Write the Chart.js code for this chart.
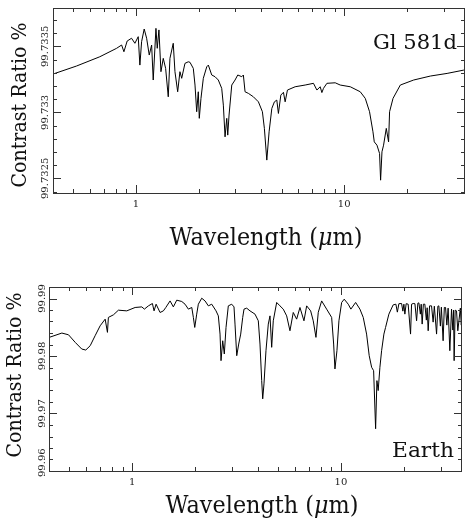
<!DOCTYPE html>
<html>
<head>
<meta charset="utf-8">
<script src="https://cdn.jsdelivr.net/npm/chart.js@4.4.0/dist/chart.umd.min.js"></script>
<style>
  html, body { margin: 0; padding: 0; background: #fff; overflow: hidden; }
  canvas { display: block; }
</style>
</head>
<body>
<canvas id="topChart" width="466" height="260"></canvas>
<canvas id="bottomChart" width="466" height="260"></canvas>
<script>
// Gl 581d spectrum (wavelength in micron, contrast ratio in %)
const gl581dWavelength = [
  0.400, 0.519, 0.671, 0.808, 0.854, 0.876, 0.908, 0.953, 0.989, 1.026,
  1.045, 1.065, 1.096, 1.126, 1.159, 1.190, 1.211, 1.248, 1.266, 1.290,
  1.319, 1.353, 1.389, 1.430, 1.457, 1.511, 1.540, 1.587, 1.627, 1.659,
  1.720, 1.784, 1.818, 1.886, 1.922, 1.958, 1.993, 2.015, 2.053, 2.107,
  2.188, 2.227, 2.312, 2.398, 2.487, 2.582, 2.629, 2.679, 2.730, 2.760,
  2.800, 2.885, 2.992, 3.083, 3.222, 3.280, 3.342, 3.467, 3.664, 3.873,
  4.048, 4.138, 4.250, 4.359, 4.492, 4.623, 4.747, 4.832, 4.963, 5.108,
  5.205, 5.339, 5.813, 6.494, 7.119, 7.392, 7.666, 7.812, 7.952, 8.258,
  9.051, 9.568, 10.69, 11.94, 12.62, 13.23, 13.74, 13.94, 14.36, 14.78,
  14.95, 15.18, 15.45, 15.92, 16.33, 16.51, 17.15, 18.59, 21.54, 25.91,
  31.18, 37.47, 38.0
];
const gl581dContrast = [
  99.733290, 99.733351, 99.733421, 99.733485, 99.733510, 99.733459, 99.733540, 99.733561, 99.733523, 99.733573,
  99.733358, 99.733535, 99.733631, 99.733561, 99.733434, 99.733510, 99.733245, 99.733636, 99.733485, 99.733624,
  99.733308, 99.733409, 99.733333, 99.733118, 99.733409, 99.733523, 99.733308, 99.733156, 99.733308, 99.733258,
  99.733371, 99.733383, 99.733379, 99.733333, 99.733207, 99.733005, 99.733156, 99.732955, 99.733106, 99.733258,
  99.733345, 99.733358, 99.733283, 99.733270, 99.733245, 99.733182, 99.733055, 99.732815, 99.732955, 99.732828,
  99.732980, 99.733207, 99.733245, 99.733283, 99.733270, 99.733283, 99.733156, 99.733144, 99.733118, 99.733080,
  99.733005, 99.732879, 99.732639, 99.732853, 99.733030, 99.733080, 99.733093, 99.732992, 99.733131, 99.733152,
  99.733080, 99.733169, 99.733194, 99.733207, 99.733220, 99.733169, 99.733194, 99.733150, 99.733182, 99.733220,
  99.733224, 99.733207, 99.733194, 99.733156, 99.733106, 99.733005, 99.732853, 99.732777, 99.732752, 99.732689,
  99.732487, 99.732702, 99.732752, 99.732879, 99.732777, 99.733005, 99.733106, 99.733207, 99.733245, 99.733275,
  99.733295, 99.733320, 99.733322
];

// Earth spectrum
const earthWavelength = [
  0.401, 0.461, 0.496, 0.534, 0.574, 0.600, 0.630, 0.665, 0.703, 0.743,
  0.762, 0.770, 0.814, 0.860, 0.943, 1.034, 1.113, 1.145, 1.197, 1.251,
  1.274, 1.303, 1.361, 1.412, 1.450, 1.520, 1.576, 1.636, 1.729, 1.793,
  1.860, 1.931, 1.965, 1.995, 2.039, 2.076, 2.155, 2.235, 2.318, 2.406,
  2.523, 2.588, 2.637, 2.666, 2.716, 2.764, 2.817, 2.889, 2.999, 3.076,
  3.110, 3.170, 3.240, 3.312, 3.386, 3.435, 3.538, 3.669, 3.877, 4.021,
  4.097, 4.174, 4.221, 4.281, 4.376, 4.489, 4.574, 4.660, 4.743, 4.924,
  5.106, 5.295, 5.497, 5.701, 5.912, 6.137, 6.365, 6.653, 6.854, 7.161,
  7.370, 7.593, 7.790, 8.085, 8.542, 9.028, 9.229, 9.362, 9.570, 9.782,
  10.08, 10.37, 10.84, 11.16, 11.76, 12.33, 12.79, 13.27, 13.66, 14.03,
  14.34, 14.66, 14.87, 15.08, 15.37, 15.66, 16.06, 16.36, 16.97, 17.79,
  18.33, 18.63, 18.95, 19.52, 19.80, 20.02, 20.24, 20.53, 20.99, 21.55,
  21.79, 22.18, 22.61, 23.03, 23.36, 23.62, 24.01, 24.23, 24.49, 24.82,
  25.23, 25.65, 25.88, 26.17, 26.58, 27.16, 27.64, 28.01, 28.71, 29.12,
  29.44, 29.94, 30.27, 30.86, 31.27, 31.70, 32.15, 32.61, 33.23, 33.86,
  34.36, 34.62, 34.84, 35.24, 35.77, 36.29, 37.31, 37.71, 38.0
];
const earthContrast = [
  99.98324, 99.98399, 99.98369, 99.98237, 99.98121, 99.98104, 99.98179, 99.98352, 99.98525, 99.98641,
  99.98411, 99.98671, 99.98716, 99.98797, 99.98785, 99.98844, 99.98854, 99.98815, 99.98872, 99.98913,
  99.98785, 99.98901, 99.98757, 99.98785, 99.98844, 99.98958, 99.98854, 99.98971, 99.98948, 99.98901,
  99.98815, 99.98844, 99.98671, 99.98497, 99.98728, 99.98901, 99.99005, 99.98958, 99.98872, 99.98901,
  99.98785, 99.98698, 99.98381, 99.97919, 99.98265, 99.98035, 99.98497, 99.98872, 99.98901, 99.98854,
  99.98555, 99.98005, 99.98208, 99.98381, 99.98671, 99.98815, 99.98832, 99.98785, 99.98728, 99.98612,
  99.98208, 99.97572, 99.97255, 99.97515, 99.98092, 99.98555, 99.98698, 99.98151, 99.98612, 99.98931,
  99.98872, 99.98815, 99.98698, 99.98439, 99.98757, 99.98641, 99.98844, 99.98612, 99.98872, 99.98785,
  99.98612, 99.98324, 99.98760, 99.98958, 99.98815, 99.98671, 99.98208, 99.97775, 99.98092, 99.98612,
  99.98931, 99.98988, 99.98901, 99.98815, 99.98931, 99.98815, 99.98671, 99.98381, 99.98005, 99.97804,
  99.97745, 99.96735, 99.97572, 99.97399, 99.97804, 99.98092, 99.98381, 99.98497, 99.98728, 99.98889,
  99.98901, 99.98763, 99.98910, 99.98913, 99.98780, 99.98901, 99.98728, 99.98910, 99.98901, 99.98381,
  99.98901, 99.98913, 99.98910, 99.98612, 99.98919, 99.98924, 99.98728, 99.98901, 99.98555, 99.98901,
  99.98901, 99.98624, 99.98839, 99.98439, 99.98872, 99.98872, 99.98589, 99.98866, 99.98381, 99.98866,
  99.98872, 99.98520, 99.98849, 99.98265, 99.98844, 99.98844, 99.98537, 99.98832, 99.98092, 99.98815,
  99.98451, 99.98797, 99.97919, 99.98797, 99.98785, 99.98439, 99.98832, 99.98537, 99.98832
];

// axis ticks
const xMajorTicks = [1, 10];
const xMinorTicks = [0.4, 0.5, 0.6, 0.7, 0.8, 0.9, 2, 3, 4, 5, 6, 7, 8, 9, 20, 30];
const gl581dMajorTicks = [99.7325, 99.733, 99.7335];
const gl581dMinorTicks = [99.7324, 99.7326, 99.7327, 99.7328, 99.7329, 99.7331, 99.7332, 99.7333, 99.7334, 99.7336, 99.7337];
const earthMajorTicks = [99.96, 99.97, 99.98, 99.99];
const earthMinorTicks = [99.962, 99.964, 99.966, 99.968, 99.972, 99.974, 99.976, 99.978, 99.982, 99.984, 99.986, 99.988];

const SERIF = '"DejaVu Serif", "Liberation Serif", serif';

// texte centré, mis à l'échelle horizontalement pour tenir dans la largeur voulue
function drawFitted(ctx, parts, cx, cy, size, target, angle) {
  ctx.save();
  let total = 0;
  parts.forEach(p => {
    ctx.font = (p.italic ? 'italic ' : '') + size + 'px ' + SERIF;
    p.w = ctx.measureText(p.t).width;
    total += p.w;
  });
  ctx.translate(cx, cy);
  ctx.rotate(angle || 0);
  ctx.scale(target ? target / total : 1, 1);
  ctx.textAlign = 'left';
  ctx.textBaseline = 'alphabetic';
  let x = -total / 2;
  parts.forEach(p => {
    ctx.font = (p.italic ? 'italic ' : '') + size + 'px ' + SERIF;
    ctx.fillText(p.t, x, 0);
    x += p.w;
  });
  ctx.restore();
}

const framePlugin = {
  id: 'frame',
  afterDraw(chart, args, opts) {
    const ctx = chart.ctx;
    const a = chart.chartArea;
    const xs = chart.scales.x, ys = chart.scales.y;
    ctx.save();
    ctx.strokeStyle = '#333';
    ctx.lineWidth = 1;
    ctx.strokeRect(Math.round(a.left) + 0.5, Math.round(a.top) + 0.5, Math.round(a.right - a.left) - 1, Math.round(a.bottom - a.top));

    const tick = (v, len, axis) => {
      ctx.beginPath();
      if (axis === 'x') {
        const p = Math.round(xs.getPixelForValue(v)) + 0.5;
        ctx.moveTo(p, a.bottom); ctx.lineTo(p, a.bottom - len);
        ctx.moveTo(p, a.top); ctx.lineTo(p, a.top + len);
      } else {
        const p = Math.round(ys.getPixelForValue(v)) + 0.5;
        ctx.moveTo(a.left, p); ctx.lineTo(a.left + len, p);
        ctx.moveTo(a.right, p); ctx.lineTo(a.right - len, p);
      }
      ctx.stroke();
    };
    xMajorTicks.forEach(v => tick(v, 8, 'x'));
    xMinorTicks.forEach(v => tick(v, 4, 'x'));
    opts.yMajor.forEach(v => tick(v, 8, 'y'));
    opts.yMinor.forEach(v => tick(v, 4, 'y'));

    // étiquettes des graduations
    ctx.fillStyle = '#222';
    ctx.font = '10px ' + SERIF;
    ctx.textAlign = 'center';
    ctx.textBaseline = 'alphabetic';
    xMajorTicks.forEach(v => {
      ctx.fillText(String(v), xs.getPixelForValue(v), a.bottom + opts.xLabelGap);
    });
    opts.yMajor.forEach(v => {
      let p = ys.getPixelForValue(v);
      const txt = String(v);
      const w = ctx.measureText(txt).width;
      if (p + w / 2 > a.bottom + 6) p = a.bottom + 6 - w / 2;
      ctx.save();
      ctx.translate(a.left - opts.yLabelGap, p);
      ctx.rotate(-Math.PI / 2);
      ctx.fillText(txt, 0, 0);
      ctx.restore();
    });

    // titres des axes
    ctx.fillStyle = '#111';
    drawFitted(ctx, [{ t: 'Wavelength (' }, { t: 'μ', italic: true }, { t: 'm)' }],
      opts.xTitle[0], opts.xTitle[1], 24, 193, 0);
    drawFitted(ctx, [{ t: 'Contrast Ratio %' }], opts.yTitle[0], opts.yTitle[1], 21, 165, -Math.PI / 2);
    // nom de la planète
    drawFitted(ctx, [{ t: opts.name }], opts.namePos[0], opts.namePos[1], 21, opts.nameWidth, 0);
    ctx.restore();
  }
};

function makeChart(id, xs, ys, yMin, yMax, padding, frameOpts) {
  const points = xs.map((x, i) => ({ x: x, y: ys[i] }));
  return new Chart(document.getElementById(id), {
    type: 'line',
    data: {
      datasets: [{
        data: points,
        borderColor: '#000',
        borderWidth: 1,
        pointRadius: 0,
        tension: 0,
        fill: false
      }]
    },
    options: {
      responsive: false,
      animation: false,
      events: [],
      layout: { padding: padding },
      scales: {
        x: { type: 'logarithmic', min: 0.4, max: 38, display: false },
        y: { type: 'linear', min: yMin, max: yMax, display: false }
      },
      plugins: {
        legend: { display: false },
        tooltip: { enabled: false },
        frame: frameOpts
      }
    },
    plugins: [framePlugin]
  });
}

makeChart('topChart', gl581dWavelength, gl581dContrast, 99.73239, 99.73379,
  { left: 53, top: 8, right: 1, bottom: 67 },
  {
    yMajor: gl581dMajorTicks, yMinor: gl581dMinorTicks,
    xLabelGap: 14, yLabelGap: 5,
    xTitle: [266, 245], yTitle: [26, 105],
    name: 'Gl 581d', namePos: [415, 49], nameWidth: 84
  });

makeChart('bottomChart', earthWavelength, earthContrast, 99.96, 99.992,
  { left: 49, top: 27, right: 4, bottom: 49 },
  {
    yMajor: earthMajorTicks, yMinor: earthMinorTicks,
    xLabelGap: 14, yLabelGap: 4,
    xTitle: [262, 253], yTitle: [21, 115],
    name: 'Earth', namePos: [423, 197], nameWidth: 62
  });
</script>
</body>
</html>
